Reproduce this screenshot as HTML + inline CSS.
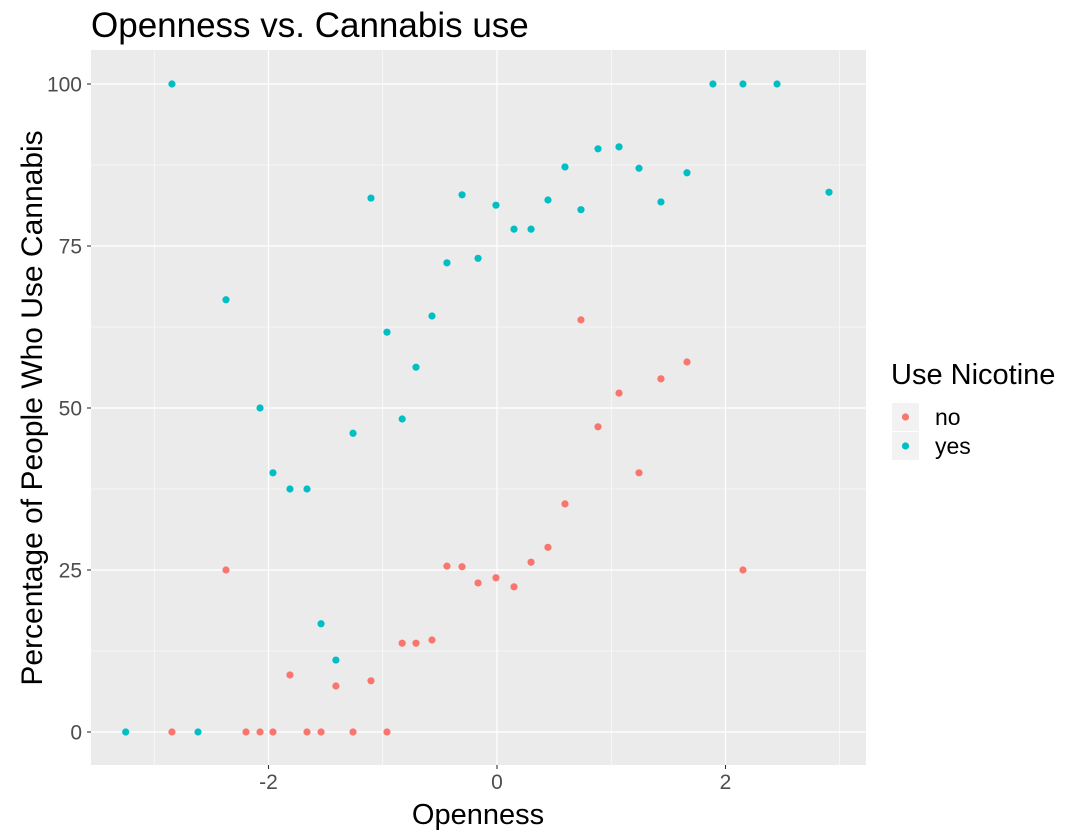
<!DOCTYPE html>
<html><head><meta charset="utf-8"><style>
body{margin:0;background:#fff;}
svg{font-family:"Liberation Sans",Arial,sans-serif;display:block}
</style></head><body>
<svg id="c" width="1080" height="840" xmlns="http://www.w3.org/2000/svg"></svg>
<script>
const xNo=[-2.845,-2.372,-2.197,-2.074,-1.961,-1.812,-1.663,-1.54,-1.41,-1.26,-1.103,-0.963,-0.83,-0.709,-0.569,-0.438,-0.306,-0.166,-0.009,0.149,0.298,0.446,0.595,0.735,0.884,1.068,1.243,1.435,1.663,2.153];
const yNo=[0,25,0,0,0,8.8,0,0,7.1,0,7.9,0,13.7,13.7,14.2,25.6,25.5,23,23.8,22.4,26.2,28.5,35.2,63.6,47.1,52.3,40,54.5,57.1,25];
const xYes=[-3.25,-2.845,-2.617,-2.372,-2.074,-1.961,-1.812,-1.663,-1.54,-1.41,-1.26,-1.103,-0.963,-0.83,-0.709,-0.569,-0.438,-0.306,-0.166,-0.009,0.149,0.298,0.446,0.595,0.735,0.884,1.068,1.243,1.435,1.663,1.89,2.153,2.451,2.906];
const yYes=[0,100,0,66.7,50,40,37.5,37.5,16.7,11.1,46.1,82.4,61.7,48.3,56.3,64.2,72.4,82.9,73.1,81.3,77.6,77.6,82.1,87.2,80.6,90,90.3,87,81.8,86.3,100,100,100,83.3];
const xTicks=[-2,0,2];
const xMinor=[-3,-1,1,3];
const yTicks=[0,25,50,75,100];
const yMinor=[12.5,37.5,62.5,87.5];
const L=91,R=866,T=50,B=765;
const sx=v=>497+v*114.25, sy=v=>732-v*6.48;
const svg=document.getElementById('c');const NS='http://www.w3.org/2000/svg';
function mk(t,a,p){const e=document.createElementNS(NS,t);for(const k in a)e.setAttribute(k,a[k]);(p||svg).appendChild(e);return e;}
let e=mk('rect',{x:L,y:T,width:R-L,height:B-T,fill:'#ebebeb'});


xMinor.forEach(v=>{const l=mk('line',{x1:sx(v),x2:sx(v),y1:T,y2:B,stroke:'#fff','stroke-width':0.6});});
yMinor.forEach(v=>{const l=mk('line',{x1:L,x2:R,y1:sy(v),y2:sy(v),stroke:'#fff','stroke-width':0.6});});
xTicks.forEach(v=>{const l=mk('line',{x1:sx(v),x2:sx(v),y1:T,y2:B,stroke:'#fff','stroke-width':1.2});
const t=mk('line',{x1:sx(v),x2:sx(v),y1:B,y2:B+4,stroke:'#333','stroke-width':1.1});
const tx=mk('text',{x:sx(v),y:B+24,'text-anchor':'middle','font-size':21,fill:'#4d4d4d'});tx.textContent=v<0?'-'+Math.abs(v):String(v);});
yTicks.forEach(v=>{const l=mk('line',{x1:L,x2:R,y1:sy(v),y2:sy(v),stroke:'#fff','stroke-width':1.2});
const t=mk('line',{x1:L-4,x2:L,y1:sy(v),y2:sy(v),stroke:'#333','stroke-width':1.1});
const tx=mk('text',{x:L-9,y:sy(v)+7.5,'text-anchor':'end','font-size':21,fill:'#4d4d4d'});tx.textContent=String(v);});
xNo.forEach((v,i)=>{const c=mk('circle',{cx:sx(v),cy:sy(yNo[i]),r:3.6,fill:'#F8766D'});});
xYes.forEach((v,i)=>{const c=mk('circle',{cx:sx(v),cy:sy(yYes[i]),r:3.6,fill:'#00BFC4'});});
e=mk('text',{x:91,y:37,'font-size':35,fill:'#000'});e.textContent='Openness vs. Cannabis use';

e=mk('text',{x:478,y:824,'text-anchor':'middle','font-size':29,fill:'#000'});e.textContent='Openness';

e=mk('text',{x:0,y:0,'text-anchor':'middle','font-size':30,fill:'#000',transform:'translate(42,408) rotate(-90)'});e.textContent='Percentage of People Who Use Cannabis';

e=mk('text',{x:891,y:384,'font-size':29,fill:'#000'});e.textContent='Use Nicotine';

[['no','#F8766D',403],['yes','#00BFC4',432]].forEach(([n,c,y])=>{
const r=mk('rect',{x:892,y:y,width:27,height:28,fill:'#f2f2f2'});
const d=mk('circle',{cx:905.5,cy:y+14,r:3.6,fill:c});
const t=mk('text',{x:935,y:y+22,'font-size':23,fill:'#000'});t.textContent=n;});
</script>
</body></html>
